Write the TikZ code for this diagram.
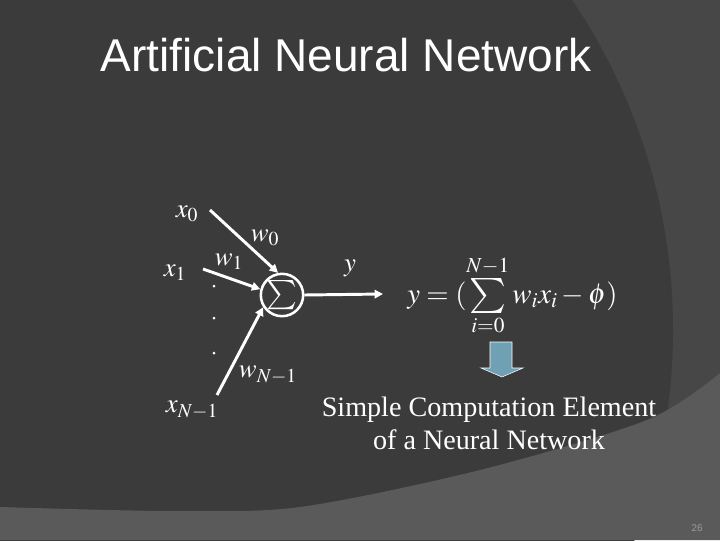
\documentclass[tikz,border=0pt]{standalone}
\usepackage{mathptmx}
\usepackage{exscale}
\usepackage{fontspec}
\setmainfont{Liberation Serif}
\newfontfamily\titlefont{Liberation Sans}
\usetikzlibrary{arrows.meta}

\definecolor{bgdark}{HTML}{3B3B3B}
\definecolor{bgmid}{HTML}{474747}
\definecolor{bandgray}{RGB}{90,90,90}
\definecolor{arrowblue}{HTML}{6FA0B4}
\definecolor{pagegray}{HTML}{9C9C9C}

\newcommand{\eqsum}{\mathop{\vcenter{\hbox{\fontsize{25}{28}\selectfont$\sum$}}}\limits}

\tikzset{
  lbl/.style={text=white, inner sep=0pt, font=\fontsize{19}{23}\selectfont},
  wire/.style={white, line width=2.1pt, -{Triangle[length=6pt,width=6pt]}},
  sumnode/.style={circle, draw=white, line width=1.8pt, text=white,
    minimum size=0.9cm, inner sep=0pt, font=\fontsize{20.5}{24}\selectfont},
}

\begin{document}
\begin{tikzpicture}[x=0.025cm,y=-0.025cm]
            \useasboundingbox (0,0) rectangle (720,540);
            % background
            \fill[bgmid] (0,0) rectangle (720,540);
            \fill[bgdark] (83,330) circle (590);
            \fill[fill=bandgray] plot[smooth] coordinates {(0,507) (170,511) (300,507) (480,470) (647,420) (720,373)}
                -- (720,540) -- (0,540) -- cycle;

            \node[anchor=base west, text=white, font=\titlefont\fontsize{32.7}{38}\selectfont] (title) at (96,71) {Artificial Neural Network};

            \node[lbl] (x0) at (187,214) {$x_0$};
            \node[lbl] (x1) at (175,273) {$x_1$};
            \node[lbl] (xn) at (192,410) {$x_{N-1}$};
            \node[lbl] (w0) at (265,238) {$w_0$};
            \node[lbl] (w1) at (229,262) {$w_1$};
            \node[lbl] (wn) at (268,375) {$w_{N-1}$};
            \node[sumnode] (sum) at (282,295) {$\sum$};
            \node[lbl] (y) at (350,268) {$y$};

            \coordinate (t0) at (210,210);
            \coordinate (t1) at (203,269);
            \coordinate (tn) at (217,395);
            \coordinate (out) at (383,294);

            \draw[wire] (t0) -- (sum.100);
            \draw[wire] (t1) -- (sum.165);
            \draw[wire] (tn) -- (sum.213);
            \draw[wire] (sum.east) -- (out);

            \foreach \y in {286,318,353}{
                \fill[white] (214,\y) circle (1.5);
            }

            \node[lbl, anchor=base west, font=\fontsize{20.5}{24}\selectfont] (eq) at (407,303) {$y=(\eqsum_{i=0}^{N-1} w_i x_i-\phi)$};

            \filldraw[fill=arrowblue, draw=white, line width=0.4pt]
                (490,342) -- (512,342) -- (512,368) -- (523,368) -- (502,377) -- (481,368) -- (490,368) -- cycle;

            \node[text=white, align=center, font=\fontsize{20}{23.5}\selectfont] (caption) at (489,423) {Simple Computation Element\\of a Neural Network};

            \node[text=pagegray, font=\titlefont\fontsize{7}{8}\selectfont] (page) at (697,528) {26};
        \end{tikzpicture}
\end{document}
